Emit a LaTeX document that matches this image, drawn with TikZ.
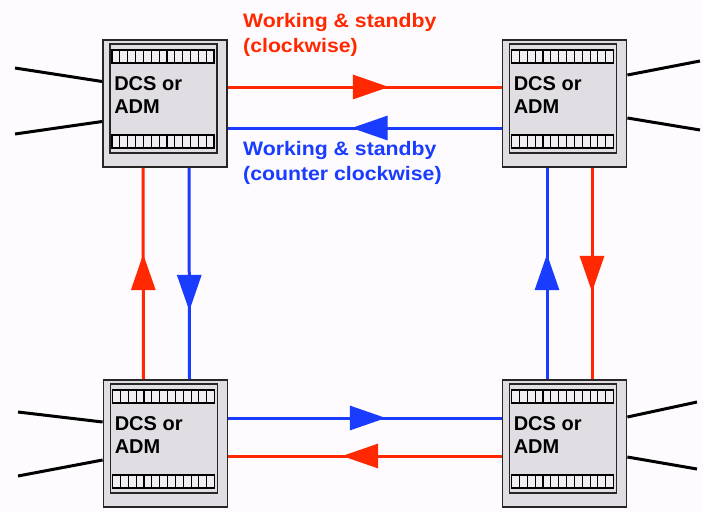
\documentclass[tikz,border=0pt]{standalone}
\usepackage{fontspec}
\setmainfont{Liberation Sans}
\newfontfamily\ringfont{Liberation Sans Bold}[FakeStretch=1.09]
\usetikzlibrary{arrows.meta,decorations.markings,calc}
\definecolor{ringred}{RGB}{255,40,0}
\definecolor{ringblue}{RGB}{25,60,255}
\definecolor{boxgray}{RGB}{224,222,226}
\definecolor{stripgray}{RGB}{240,238,242}
\definecolor{pagebg}{RGB}{253,251,253}
\tikzset{
  adm/.style={draw=black!85, line width=1.8pt, fill=boxgray,
    minimum width=124pt, minimum height=127pt, inner sep=0pt},
  fiber/.style={line width=3pt},
  wire/.style={line width=3pt, black},
  midarrow/.style={postaction={decorate},
    decoration={markings, mark=at position #1 with
      {\arrow{Triangle[length=36pt,width=24pt]}}}},
  admtext/.style={anchor=base west, inner sep=0pt,
    font=\bfseries\fontsize{20}{24}\selectfont},
  ringlabel/.style={anchor=base west, inner sep=0pt,
    font=\ringfont\fontsize{19.5}{24}\selectfont},
}
\begin{document}
\begin{tikzpicture}[x=1pt,y=-1pt]
  \fill[pagebg] (0,0) rectangle (703,512);
  \useasboundingbox (0,0) rectangle (703,512);

  % the four ring nodes
  \node[adm] (tl) at (165,103.5) {};
  \node[adm] (tr) at (564.5,103.5) {};
  \node[adm] (bl) at (165.5,443.5) {};
  \node[adm] (br) at (564.5,443.5) {};

  % inner frame, card strips and caption of each node
  \foreach \n in {tl,tr,bl,br} {
    \begin{scope}[shift={(\n.north west)}]
      \draw[line width=1.4pt, black!85] (8,5) rectangle (115,114);
      \foreach \sy in {11,96} {
        \draw[line width=1.5pt, fill=stripgray] (10,\sy) rectangle (112,\sy+13);
        \foreach \i in {1,...,12}
          \draw[line width=1.1pt] ({10+\i*102/13},\sy) -- ++(0,13);
      }
    \end{scope}
    \node[admtext] (\n-l1) at ($(\n.north west)+(12,51)$) {DCS or};
    \node[admtext] (\n-l2) at ($(\n.north west)+(12,74)$) {ADM};
  }

  % tributary lines
  \coordinate (tlA) at (15,68);   \coordinate (tlB) at (15,134);
  \coordinate (blA) at (18,412);  \coordinate (blB) at (18,476);
  \coordinate (trA) at (700,61);  \coordinate (trB) at (700,130);
  \coordinate (brA) at (697,402); \coordinate (brB) at (697,469);
  \draw[wire] (tlA) -- ([yshift=22pt]tl.west);
  \draw[wire] (tlB) -- ([yshift=-18pt]tl.west);
  \draw[wire] (blA) -- ([yshift=21.5pt]bl.west);
  \draw[wire] (blB) -- ([yshift=-16.5pt]bl.west);
  \draw[wire] (trA) -- ([yshift=28.5pt]tr.east);
  \draw[wire] (trB) -- ([yshift=-14.5pt]tr.east);
  \draw[wire] (brA) -- ([yshift=26.5pt]br.east);
  \draw[wire] (brB) -- ([yshift=-13.5pt]br.east);

  % clockwise ring (red)
  \draw[fiber, ringred, midarrow=161pt]
    ([yshift=16.5pt]tl.east) -- ([yshift=16.5pt]tr.west);
  \draw[fiber, ringred, midarrow=124pt]
    ([xshift=27.5pt]tr.south) -- ([xshift=27.5pt]br.north);
  \draw[fiber, ringred, midarrow=159.5pt]
    ([yshift=-12.5pt]br.west) -- ([yshift=-12.5pt]bl.east);
  \draw[fiber, ringred, midarrow=125pt]
    ([xshift=-22pt]bl.north) -- ([xshift=-22pt]tl.south);

  % counter clockwise ring (blue)
  \draw[fiber, ringblue, midarrow=150pt]
    ([yshift=-24.5pt]tr.west) -- ([yshift=-24.5pt]tl.east);
  \draw[fiber, ringblue, midarrow=143pt]
    ([xshift=24pt]tl.south) -- ([xshift=24pt]bl.north);
  \draw[fiber, ringblue, midarrow=157.5pt]
    ([yshift=25.5pt]bl.east) -- ([yshift=25.5pt]br.west);
  \draw[fiber, ringblue, midarrow=125pt]
    ([xshift=-17.5pt]br.north) -- ([xshift=-17.5pt]tr.south);

  % ring labels
  \node[ringlabel, text=ringred] (cw1) at (243,27) {Working \& standby};
  \node[ringlabel, text=ringred] (cw2) at (243,52) {(clockwise)};
  \node[ringlabel, text=ringblue] (ccw1) at (243,155) {Working \& standby};
  \node[ringlabel, text=ringblue] (ccw2) at (243,180) {(counter clockwise)};
\end{tikzpicture}
\end{document}
